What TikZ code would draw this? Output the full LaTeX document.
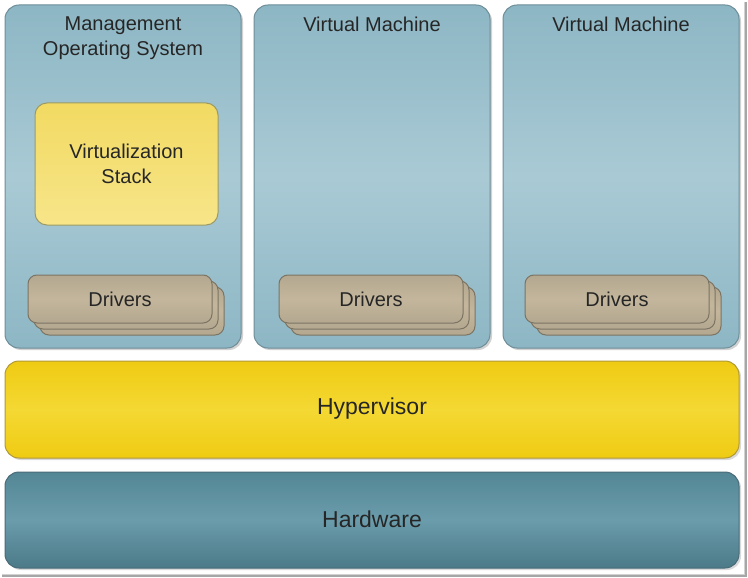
\documentclass[tikz,border=0pt]{standalone}
\usepackage{fontspec}
\setmainfont{Liberation Sans}
\definecolor{panelTop}{HTML}{8DB6C4}
\definecolor{panelMid}{HTML}{A9CAD5}
\definecolor{panelEdge}{HTML}{6E8E99}
\definecolor{stackFill}{HTML}{F6E27C}
\definecolor{stackTop}{HTML}{F2DA62}
\definecolor{stackEdge}{HTML}{9C9A66}
\definecolor{drvFill}{HTML}{C3B69C}
\definecolor{drvDark}{HTML}{B3A588}
\definecolor{drvEdge}{HTML}{7B7463}
\definecolor{hypTop}{HTML}{EFCB12}
\definecolor{hypMid}{HTML}{F4D833}
\definecolor{hypEdge}{HTML}{B19A36}
\definecolor{hwTop}{HTML}{548796}
\definecolor{hwMid}{HTML}{6A9CAC}
\definecolor{hwEdge}{HTML}{4A6B78}
\definecolor{txt}{HTML}{262626}
\tikzset{
  panel/.style={draw=panelEdge, line width=1pt, rounded corners=14pt,
    top color=panelTop, bottom color=panelTop, middle color=panelMid},
  stackbox/.style={draw=stackEdge, line width=1pt, rounded corners=12pt,
    top color=stackTop, bottom color=stackFill!90!white},
  drv/.style={draw=drvEdge, line width=1pt, rounded corners=9pt,
    top color=drvFill!92!black, bottom color=drvFill!92!black, middle color=drvFill},
  layer/.style={line width=1pt, rounded corners=14pt},
  lbl/.style={text=txt, font=\fontsize{20}{25}\selectfont, align=center},
  biglbl/.style={text=txt, font=\fontsize{23}{28}\selectfont, align=center},
}
\begin{document}
\begin{tikzpicture}[x=1pt,y=-1pt]
\useasboundingbox (0,0) rectangle (748,578);
\fill[white] (0,0) rectangle (748,578);
% screenshot frame shadow
\draw[gray!70, line width=1.5pt] (746,2) -- (746,576) -- (2,576);
\draw[gray!35, line width=1pt] (744,2) -- (744,574) -- (2,574);
% panels
\foreach \i/\x in {1/5,2/254,3/503}{
  \fill[black!18, rounded corners=14pt] (\x+2,7) rectangle (\x+238,350);
  \path[panel] (\x,5) rectangle (\x+236,348);
  \coordinate (p\i) at (\x+118,5);
}
\node[lbl, anchor=north] (t1) at ([yshift=-8]p1) {Management\\Operating System};
\node[lbl, anchor=north] (t2) at ([yshift=-8]p2) {Virtual Machine};
\node[lbl, anchor=north] (t3) at ([yshift=-8]p3) {Virtual Machine};
% virtualization stack
\path[stackbox] (35,103) rectangle (218,225);
\node[lbl] (vs) at (126.5,164) {Virtualization\\Stack};
% drivers
\foreach \i/\x in {1/28,2/279,3/525}{
  \path[drv] (\x+12,287) rectangle (\x+196,335);
  \path[drv] (\x+6,281) rectangle (\x+190,329);
  \path[drv] (\x,275) rectangle (\x+184,323);
  \node[lbl] (d\i) at (\x+92,299) {Drivers};
}
% hypervisor
\fill[black!15, rounded corners=14pt] (7,363) rectangle (741,460);
\path[layer, draw=hypEdge, top color=hypTop, bottom color=hypTop, middle color=hypMid]
  (5,361) rectangle (739,458);
\node[biglbl] (hyp) at (372,409) {Hypervisor};
% hardware
\fill[black!15, rounded corners=14pt] (7,474) rectangle (741,570);
\path[layer, draw=hwEdge, top color=hwTop, bottom color=hwTop!90!black, middle color=hwMid]
  (5,472) rectangle (739,568);
\node[biglbl] (hw) at (372,519) {Hardware};
\end{tikzpicture}
\end{document}
